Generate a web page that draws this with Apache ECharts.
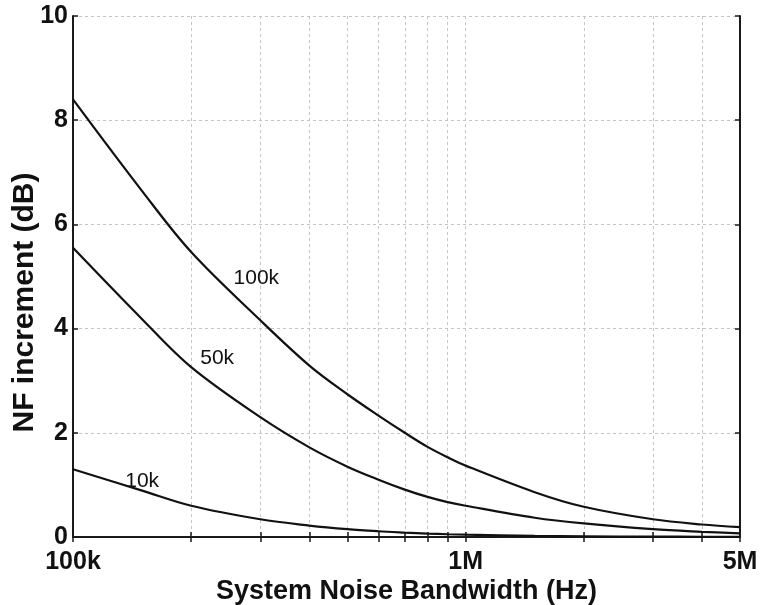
<!DOCTYPE html>
<html><head><meta charset="utf-8">
<script src="https://cdn.jsdelivr.net/npm/echarts@6/dist/echarts.min.js"></script>
<style>html,body{margin:0;padding:0;background:#fff}#c{width:761px;height:605px}</style>
</head><body><div id="c"></div>
<script>
// System noise bandwidth (Hz) sample points
const bandwidthHz = [1e5, 1.5e5, 2e5, 3e5, 4e5, 5e5, 6e5, 7e5, 8e5, 9e5, 1e6, 1.5e6, 2e6, 3e6, 4e6, 5e6];
// NF increment (dB) for each interferer case
const nf100k = [8.40, 6.64, 5.47, 4.16, 3.29, 2.74, 2.33, 2.00, 1.73, 1.53, 1.37, 0.86, 0.58, 0.34, 0.24, 0.19];
const nf50k  = [5.55, 4.18, 3.26, 2.30, 1.72, 1.35, 1.10, 0.91, 0.77, 0.67, 0.60, 0.37, 0.26, 0.15, 0.10, 0.07];
const nf10k  = [1.30, 0.89, 0.60, 0.34, 0.22, 0.15, 0.11, 0.085, 0.066, 0.053, 0.044, 0.022, 0.014, 0.007, 0.005, 0.004];
const curveNames = ['100k', '50k', '10k'];
// Axis ticks / labels
const xTickValues = [1e5, 2e5, 3e5, 4e5, 5e5, 6e5, 7e5, 8e5, 9e5, 1e6, 2e6, 3e6, 4e6, 5e6];
const xLabelValues = [1e5, 1e6, 5e6];
const xLabelTexts = ['100k', '1M', '5M'];
const yTickLabels = ['0', '2', '4', '6', '8', '10'];
const xTitle = 'System Noise Bandwidth (Hz)';
const yTitle = 'NF increment (dB)';

const FONT = 'Liberation Sans, Arial, Helvetica, sans-serif';
const gridLine = { show: true, lineStyle: { color: '#c4c4c4', type: [3, 3], width: 1 } };
const axisLine = { show: true, lineStyle: { color: '#1a1a1a', width: 2 } };
const tickStyle = { color: '#1a1a1a', width: 1.5 };

function toPairs(ys) { return bandwidthHz.map((b, i) => [b, ys[i]]); }
function xLabelFmt(v) {
  const i = xLabelValues.findIndex(t => Math.abs(t - v) / t < 1e-6);
  return i >= 0 ? xLabelTexts[i] : '';
}

const labelPlacements = [
  { idx: 3, offset: [-4, -42] },
  { idx: 2, offset: [26, -9] },
  { idx: 1, offset: [0, -9] }
];
const curves = [nf100k, nf50k, nf10k];

const chart = echarts.init(document.getElementById('c'), null, { renderer: 'canvas' });
chart.setOption({
  animation: false,
  backgroundColor: '#fff',
  grid: { left: 73, right: 21, top: 16, bottom: 68, containLabel: false, outerBoundsMode: 'none' },
  xAxis: [{
    type: 'log', logBase: 10, min: 1e5, max: 5e6, position: 'bottom',
    axisLine: axisLine,
    axisTick: { show: true, inside: true, length: 5, customValues: xTickValues, lineStyle: tickStyle },
    axisLabel: { show: true, customValues: xLabelValues, formatter: xLabelFmt, showMinLabel: true, showMaxLabel: true,
      fontFamily: FONT, fontWeight: 'bold', fontSize: 25, color: '#111', margin: 13 },
    splitLine: gridLine,
    name: xTitle, nameLocation: 'middle', nameGap: 41, nameMoveOverlap: false,
    nameTextStyle: { fontFamily: FONT, fontWeight: 'bold', fontSize: 27, color: '#111' }
  }, {
    type: 'log', logBase: 10, min: 1e5, max: 5e6, position: 'top',
    axisLine: axisLine,
    axisTick: { show: true, inside: true, length: 5, customValues: xTickValues, lineStyle: tickStyle },
    axisLabel: { show: false },
    splitLine: { show: false }
  }],
  yAxis: [{
    type: 'value', min: 0, max: 10, interval: 2, position: 'left',
    axisLine: axisLine,
    axisTick: { show: true, inside: true, length: 5, lineStyle: tickStyle },
    axisLabel: { formatter: (v) => yTickLabels[Math.round(v / 2)], fontFamily: FONT, fontWeight: 'bold', fontSize: 25, color: '#111', margin: 5 },
    splitLine: gridLine,
    name: yTitle, nameLocation: 'middle', nameGap: 33, nameMoveOverlap: false,
    nameTextStyle: { fontFamily: FONT, fontWeight: 'bold', fontSize: 30, color: '#111', padding: [0, 52, 0, 0] }
  }, {
    type: 'value', min: 0, max: 10, interval: 2, position: 'right',
    axisLine: axisLine,
    axisTick: { show: true, inside: true, length: 5, lineStyle: tickStyle },
    axisLabel: { show: false },
    splitLine: { show: false }
  }],
  series: curves.map((ys, k) => ({
    name: curveNames[k],
    type: 'line',
    xAxisIndex: 0, yAxisIndex: 0,
    data: toPairs(ys),
    smooth: 0.35,
    showSymbol: false,
    lineStyle: { color: '#111', width: 2.2 },
    markPoint: {
      symbol: 'circle', symbolSize: 0, silent: true,
      label: { show: true, formatter: curveNames[k], offset: labelPlacements[k].offset,
        fontFamily: FONT, fontSize: 21, color: '#111' },
      data: [{ coord: [bandwidthHz[labelPlacements[k].idx], ys[labelPlacements[k].idx]] }]
    }
  }))
});
</script></body></html>
